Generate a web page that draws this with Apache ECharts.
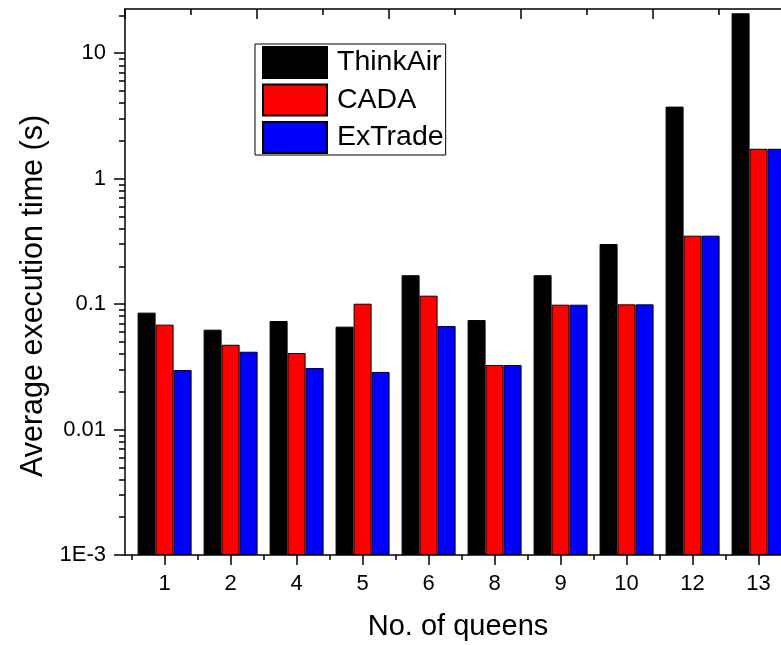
<!DOCTYPE html>
<html>
<head>
<meta charset="utf-8">
<script src="https://cdn.jsdelivr.net/npm/echarts@6/dist/echarts.min.js"></script>
<style>html,body{margin:0;padding:0;background:#fff}#c{width:781px;height:645px}</style>
</head>
<body>
<div id="c"></div>
<script>
const categories = ['1', '2', '4', '5', '6', '8', '9', '10', '12', '13'];
const thinkAir = [0.0855, 0.0625, 0.0733, 0.0661, 0.170, 0.0746, 0.170, 0.301, 3.75, 20.8];
const cada = [0.0686, 0.0474, 0.0407, 0.1007, 0.1167, 0.0327, 0.0989, 0.0995, 0.351, 1.73];
const exTrade = [0.0298, 0.0417, 0.0309, 0.0288, 0.0668, 0.0327, 0.0989, 0.0995, 0.351, 1.73];
const yTickValues = [0.001, 0.01, 0.1, 1, 10];
const yTickLabels = ['1E-3', '0.01', '0.1', '1', '10'];
const yMin = 0.001, yMax = 22.5;

const FONT = '"Liberation Sans", Arial, sans-serif';
const idx = categories.map((_, i) => i);
const halfIdx = [-0.5].concat(categories.map((_, i) => i + 0.5));
const yMinor = [];
for (let d = -3; d <= 1; d++) for (let k = 2; k <= 9; k++) {
  const v = k * Math.pow(10, d);
  if (v < yMax) yMinor.push(+v.toPrecision(3));
}
const xMin = -0.6, xMax = 9.37;
const lineStyle = { color: '#000', width: 1.5 };

const chart = echarts.init(document.getElementById('c'), null, { renderer: 'canvas' });
function mk(name, arr, color) {
  return {
    name, type: 'bar', xAxisIndex: 0, yAxisIndex: 0,
    data: arr.map((v, i) => [i, v]),
    barWidth: 18, barGap: '0%',
    itemStyle: { color, borderColor: '#000', borderWidth: 1 },
    emphasis: { disabled: true }
  };
}
chart.setOption({
  animation: false,
  backgroundColor: '#fff',
  textStyle: { fontFamily: FONT, color: '#000' },
  grid: { left: 125, top: 9, width: 658, bottom: 90, containLabel: false, outerBoundsMode: 'none' },
  legend: {
    orient: 'vertical', left: 255, top: 44,
    itemWidth: 64, itemHeight: 31, itemGap: 4.5,
    padding: [2, 2, 1, 7],
    borderColor: '#000', borderWidth: 1, borderRadius: 0,
    icon: 'rect',
    textStyle: { fontSize: 28.5, color: '#000', fontFamily: FONT, padding: [0, 0, 0, 5] },
    data: ['ThinkAir', 'CADA', 'ExTrade'],
    selectedMode: false
  },
  xAxis: [
    {
      type: 'value', position: 'bottom', min: xMin, max: xMax,
      axisLine: { show: true, onZero: false, lineStyle },
      axisTick: { show: true, inside: false, length: 10, customValues: idx, lineStyle },
      axisLabel: { show: true, customValues: idx, margin: 18, fontSize: 22, color: '#000', fontFamily: FONT,
        formatter: v => categories[Math.round(v)] },
      splitLine: { show: false },
      name: 'No. of queens', nameLocation: 'middle', nameGap: 57,
      nameTextStyle: { fontSize: 29, color: '#000', fontFamily: FONT, padding: [0, 0, 0, 8] }
    },
    {
      type: 'value', position: 'bottom', min: xMin, max: xMax,
      axisLine: { show: false, onZero: false },
      axisTick: { show: true, inside: false, length: 5, customValues: halfIdx.filter(v => v > xMin && v < xMax), lineStyle },
      axisLabel: { show: false },
      splitLine: { show: false }
    },
    {
      type: 'value', position: 'top', min: xMin, max: xMax, interval: 2,
      axisLine: { show: true, onZero: false, lineStyle },
      axisTick: { show: true, inside: true, length: 10, lineStyle },
      minorTick: { show: true, splitNumber: 2, length: 6, lineStyle },
      axisLabel: { show: false },
      splitLine: { show: false }, minorSplitLine: { show: false }
    }
  ],
  yAxis: [
    {
      type: 'log', logBase: 10, position: 'left', min: yMin, max: yMax, startValue: yMin,
      axisLine: { show: true, onZero: false, lineStyle },
      axisTick: { show: true, inside: false, length: 11, customValues: yTickValues, lineStyle },
      axisLabel: { show: true, customValues: yTickValues, margin: 19, fontSize: 22, color: '#000', fontFamily: FONT,
        formatter: v => yTickLabels[Math.round(Math.log10(v)) + 3] },
      splitLine: { show: false },
      name: 'Average execution time (s)', nameLocation: 'middle', nameRotate: 90, nameGap: 75,
      nameTextStyle: { fontSize: 30.5, color: '#000', fontFamily: FONT, padding: [0, 28, 0, 0] }
    },
    {
      type: 'log', logBase: 10, position: 'left', min: yMin, max: yMax,
      axisLine: { show: false, onZero: false },
      axisTick: { show: true, inside: false, length: 6, customValues: yMinor, lineStyle },
      axisLabel: { show: false },
      splitLine: { show: false }
    },
    {
      type: 'log', logBase: 10, position: 'right', min: yMin, max: yMax,
      axisLine: { show: true, onZero: false, lineStyle },
      axisTick: { show: false },
      axisLabel: { show: false },
      splitLine: { show: false }
    }
  ],
  series: [
    mk('ThinkAir', thinkAir, '#000000'),
    mk('CADA', cada, '#ff0000'),
    mk('ExTrade', exTrade, '#0000ff')
  ]
});
</script>
</body>
</html>
